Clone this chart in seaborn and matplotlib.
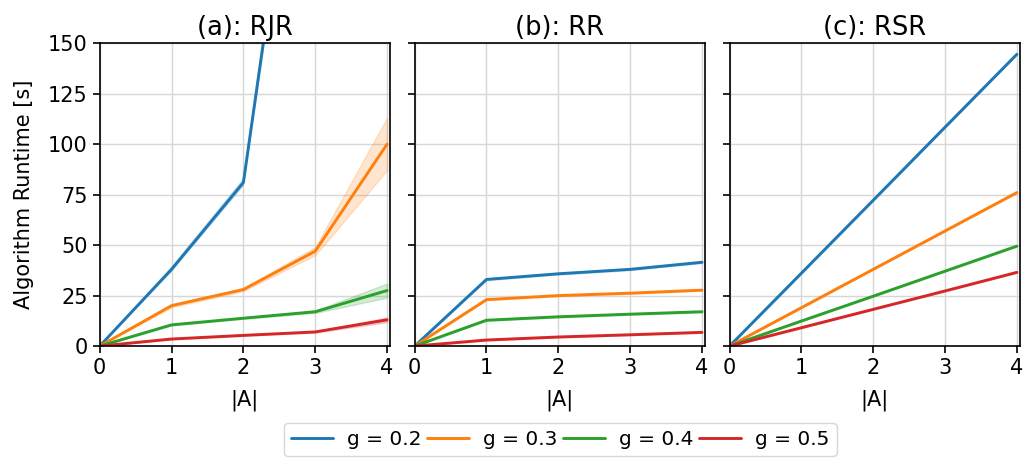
import numpy as np
import pandas as pd
import seaborn as sns
import matplotlib.pyplot as plt

# number of attacked nodes |A|
x_vals = [0, 1, 2, 3, 4]
g_labels = ['g = 0.2', 'g = 0.3', 'g = 0.4', 'g = 0.5']
titles = ['(a): RJR', '(b): RR', '(c): RSR']

# mean runtimes [s]
rjr = {
    'g = 0.2': [0, 38, 81, 330, 700],
    'g = 0.3': [0, 20, 28, 47, 100],
    'g = 0.4': [0, 10.5, 13.8, 17, 27.5],
    'g = 0.5': [0, 3.5, 5.3, 7, 13],
}
rjr_spread = {
    'g = 0.2': [0, 1, 1.5, 8, 20],
    'g = 0.3': [0, 0.8, 0.8, 2, 13],
    'g = 0.4': [0, 0.3, 0.3, 0.6, 3.5],
    'g = 0.5': [0, 0.2, 0.2, 0.3, 1.2],
}
rr = {
    'g = 0.2': [0, 33, 35.8, 38, 41.5],
    'g = 0.3': [0, 23, 25, 26.2, 27.7],
    'g = 0.4': [0, 12.8, 14.5, 15.8, 17],
    'g = 0.5': [0, 3, 4.5, 5.6, 6.8],
}
rr_spread = {
    'g = 0.2': [0, 0.4, 0.4, 0.4, 0.4],
    'g = 0.3': [0, 0.3, 0.3, 0.3, 0.3],
    'g = 0.4': [0, 0.3, 0.3, 0.3, 0.3],
    'g = 0.5': [0, 0.2, 0.2, 0.2, 0.2],
}
rsr = {
    'g = 0.2': [0, 36.1, 72.2, 108.4, 144.5],
    'g = 0.3': [0, 19, 38, 57, 76],
    'g = 0.4': [0, 12.4, 24.7, 37.1, 49.5],
    'g = 0.5': [0, 9.1, 18.2, 27.3, 36.5],
}
rsr_spread = {g: [0, 0.2, 0.2, 0.2, 0.2] for g in g_labels}


def long_form(means, spread):
    # three runs per point: low, mean, high
    rows = []
    for g in g_labels:
        for x, m, d in zip(x_vals, means[g], spread[g]):
            for v in (m - d, m, m + d):
                rows.append({'A': x, 'runtime': v, 'g': g})
    return pd.DataFrame(rows)


frames = [long_form(rjr, rjr_spread), long_form(rr, rr_spread), long_form(rsr, rsr_spread)]

sns.set_theme(style='ticks', rc={'axes.grid': True, 'grid.color': '#d6d6d6',
                                 'axes.edgecolor': 'black', 'axes.linewidth': 1.2,
                                 'text.color': 'black', 'axes.labelcolor': 'black',
                                 'xtick.color': 'black', 'ytick.color': 'black'})
plt.rcParams['font.family'] = ['DejaVu Sans']

palette = dict(zip(g_labels, ['#1f77b4', '#ff7f0e', '#2ca02c', '#d62728']))

fig, axes = plt.subplots(1, 3, figsize=(10.28, 4.59), dpi=100, sharey=True)
fig.subplots_adjust(left=0.097, right=0.992, top=0.906, bottom=0.246, wspace=0.085)

for ax, df, title in zip(axes, frames, titles):
    sns.lineplot(data=df, x='A', y='runtime', hue='g', palette=palette,
                 errorbar=('pi', 100), linewidth=2.1, ax=ax, legend=(ax is axes[0]))
    ax.set_title(title, fontsize=18.5)
    ax.set_xlabel('|A|', fontsize=15, labelpad=8)
    ax.set_ylabel('')
    ax.set_xlim(0, 4.04)
    ax.set_ylim(0, 150)
    ax.set_xticks([0, 1, 2, 3, 4])
    ax.set_yticks([0, 25, 50, 75, 100, 125, 150])
    ax.tick_params(labelsize=15, length=5, width=1.2)

axes[0].set_ylabel('Algorithm Runtime [s]', fontsize=15, labelpad=10)

handles, labels = axes[0].get_legend_handles_labels()
axes[0].get_legend().remove()
fig.legend(handles, labels, loc='lower center', ncol=4, fontsize=14.5,
           bbox_to_anchor=(0.545, -0.015), handlelength=2.1, handletextpad=0.7,
           columnspacing=0.25, borderpad=0.35, frameon=True)

fig.savefig('out.png', dpi=100)
